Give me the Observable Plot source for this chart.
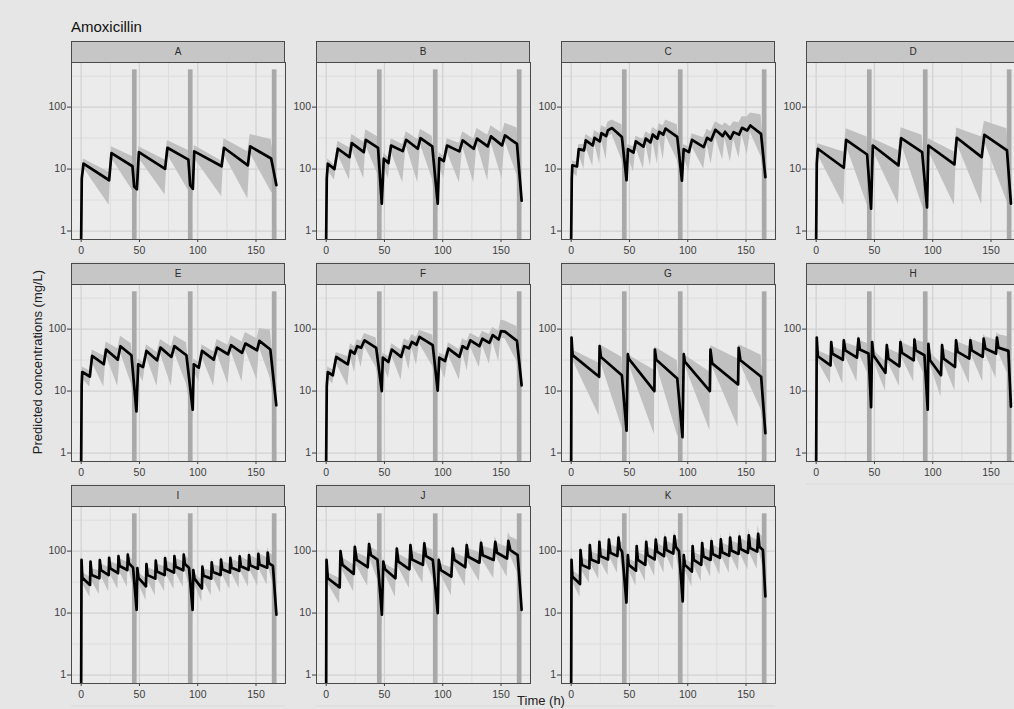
<!DOCTYPE html>
<html><head><meta charset="utf-8">
<script src="https://cdn.jsdelivr.net/npm/d3@7"></script>
<script src="https://cdn.jsdelivr.net/npm/@observablehq/plot@0.6"></script>
<style>
body{margin:0;background:#e6e6e6;overflow:hidden;font-family:"Liberation Sans",Arial,sans-serif;}
#fig{position:relative;width:1014px;height:709px;overflow:hidden;background:#e6e6e6;}
.strip{position:absolute;background:#c6c6c6;border:1px solid #4a4a4a;box-sizing:border-box;font-size:10px;line-height:20px;text-align:center;color:#2a2a2a;}
.ttl{position:absolute;white-space:nowrap;color:#111;}
</style></head><body><div id="fig"></div>
<script>
// ---- data: rows are [time (h), median, lower, upper] (mg/L) ----
const panelNames = ["A","B","C","D","E","F","G","H","I","J","K"];
const panelA = [[0,0.75,0.74,0.76],[0.5,7,4,10],[2,12.2,10.5,14.5],[24,6.6,2.6,8.9],[26,18.1,15,23],[44,11.1,4.5,16],[45.5,5.2,3.5,8],[47.8,4.7,3.3,7],[49.5,18.8,15,23],[72,10.1,3.8,14],[74,22.1,17,29],[92,14.2,4.5,20],[93.5,5.5,3.5,8],[95.8,4.8,3.3,7],[97,19.3,15,24],[120.5,11.1,3.6,13.5],[122.5,22.1,17,31],[143,11.5,3.3,19],[145,23.2,18,36],[163,14.8,4.3,30],[167.5,5.5,3.5,8]];
const panelB = [[0,0.75,0.74,0.76],[0.5,7,5,9],[1.4,12.2,9.5,14.5],[7.1,10,6.6,11.5],[10,21.3,17,28],[20,15.6,6.6,22],[22,26.3,21,36],[32.3,18.8,7,27],[34,29.7,24,43],[44.5,22,8,33],[47.7,2.76,1.8,4],[49.4,14.7,11,18],[53.4,12.5,7,15.5],[55.7,24,19,31],[65.7,19.5,6,25],[68.6,29.7,24,40],[78.6,21.3,6,30],[80.9,31.6,25,44],[91,23.2,7,34],[95.7,2.76,1.8,4],[97,15,11,18.5],[100.9,13.5,7,16],[103.7,24,19,31],[114.3,19.3,6,26],[117.1,29,23,40],[126.6,21.3,6,31],[129.4,31,25,45],[138.6,23.2,6.5,35],[141.4,33.7,27,50],[150.9,24.1,7,38],[153.4,34.9,28,55],[163.7,25.6,8,46],[167.7,3.1,2,4.5]];
const panelC = [[0,0.75,0.74,0.76],[0.5,7,5,9],[1,11.5,9,13.5],[5,11,7.5,13],[6.5,21,17,25],[11,20,10,25],[12.5,29,23,36],[18.5,24,11,31],[20,32,26,42],[24.5,28,12,37],[26,38,30,50],[30,34,14,46],[31.5,42,33,57],[35,46,36,62],[43.5,33,14,52],[47.5,6.6,4.5,9],[48.7,21,16,25],[53.5,18.5,9,23],[55.5,28,22,34],[62,23,10,30],[64,31,25,40],[68,27,11,36],[70,36,28,47],[74,31,12,42],[75.5,40,31,54],[79,36,14,50],[81,45,35,62],[91,33,14,52],[95,6.5,4.5,9],[96.5,21,16,25],[101,18.8,9,23],[103.7,29.7,23,37],[113.7,22.6,10,32],[116.6,32,25,44],[120,29,12,40],[123.7,43,33,58],[130,34,14,50],[132,40,31,56],[136.6,31,13,48],[139.4,39.5,30,58],[144,36,15,56],[146.6,46.4,36,70],[151,42,17,70],[153.7,50.6,39,80],[162.9,37,16,75],[166.6,7.4,5,10]];
const panelD = [[0,0.75,0.74,0.76],[0.5,12,8,15],[1.4,21.3,17,25.6],[23.7,10.5,2.6,18.8],[25.7,29.7,24,44.6],[43.7,17.2,2.7,32.8],[47.1,2.3,1.6,3.5],[48.6,24,20,31],[70.6,11.5,2.7,20],[72.9,31.6,26,46.4],[90.9,18.8,2.6,35],[95.1,2.4,1.7,3.5],[96.3,24,20,31],[118.6,11.9,2.6,18.8],[120.6,32,26,46],[142,15.6,2.7,33],[144.3,35.7,28,59],[163.7,20,3,44.6],[167.1,2.76,1.9,4]];
const panelE = [[0,0.75,0.74,0.76],[0.4,12,8,15],[0.9,20.3,16,24.5],[7.4,17.2,11.6,21],[9.4,37,29,46],[19.4,27.1,11.6,37],[21.4,46.8,37,62],[31.4,32.2,12,48],[33.7,53,42,77],[43.1,37.9,13,58],[47.4,4.7,3.2,7],[48.9,27.1,21,33],[53.1,24.5,14,29],[56,44.5,35,56],[65.1,31.4,12,42],[68,50.3,40,68],[77.4,35.6,12,52],[80,53,42,78],[90.3,37.9,13,60],[95.7,5,3.4,7.5],[96.6,27.1,21,33],[100.9,23.9,14,29],[103.7,44.5,35,56],[113.7,32.2,12,43],[116.6,50.3,40,68],[126,39.3,13,55],[128.6,55,44,78],[138,41.4,14,62],[140.9,58.5,46,88],[150.9,45.6,15,70],[152.9,64.6,50,102],[162.3,46.8,16,96],[167.4,5.9,4,9]];
const panelF = [[0,0.75,0.74,0.76],[0.5,12,8,15],[1.4,20.3,16,24.5],[5.7,18,13,22],[8.6,35.5,28,42],[18.6,27,12,36],[20.9,45,35,58],[24.3,40,20,52],[26.6,53,42,68],[30,50,24,64],[32.9,66,52,85],[42.9,50,24,72],[47.7,10,7,14],[48.6,34.6,27,41],[53.4,29.5,16,36],[56.3,46.8,37,58],[64.3,35.6,15,46],[67,53,42,70],[71,49,22,64],[73.5,62,49,82],[77.5,56,26,74],[80,75,58,96],[91.4,55,25,80],[95.7,10.2,7,14],[97,34.6,27,41],[102,30.6,16,37],[104.9,48.5,38,60],[114.3,35.6,15,47],[117,53,42,70],[121,48,21,64],[123.7,66,52,86],[131.4,53,24,72],[134,70,55,92],[140,60,27,82],[142.9,80,63,106],[148,68,30,92],[150,93,72,140],[153.4,91,70,135],[163.7,64.7,30,110],[167.7,12.3,8,17]];
const panelG = [[0,0.75,0.74,0.76],[0.3,73,38,78],[1.2,38,32,46],[24,17,4,28],[24.4,53,28,58],[25.5,35.5,29,55],[43.5,18,2.6,35],[47.5,2.3,1.5,3.5],[48.6,39.4,30,45],[49.5,33,27,38],[71.4,10,2,21.6],[71.8,46.8,25,52],[73,32,27,50],[91,16,2,31],[95.5,1.8,1.3,3],[96.6,39.4,30,45],[97.5,30,26,38],[119,10,2.3,20.3],[119.5,46.8,25,53],[121,28,25,53],[143.2,12.8,2.6,33],[143.7,50,28,55],[145.2,31.4,27,55],[163,17,5,38],[166.6,2.1,1.5,3.5]];
const panelH = [[0,0.75,0.74,0.76],[0.5,73,45,80],[1.4,36.5,30,45],[12.3,26,13,36],[12.9,62,38,70],[14,40,32,52],[22.9,32,13,45],[23.7,66,42,75],[25,45.5,36,60],[35,34.6,14,52],[36.3,70,45,80],[37.5,46.8,38,65],[44.9,40.3,18,58],[47.1,5.5,3.5,8],[48,62,40,70],[49.1,37.9,31,46],[59.4,19.7,10,30],[60.6,55,33,62],[62,33.5,28,48],[71.4,25.1,12,40],[72.3,62,40,72],[73.7,41.4,34,60],[83.7,31.4,14,50],[84.3,68,44,78],[85.5,45.5,37,66],[92.9,37.9,18,60],[95.7,5,3.3,7.5],[96.3,58,38,66],[97.7,31.4,27,42],[107.1,18,8,28],[108,55,33,62],[109.4,33.5,28,48],[119.1,24.5,10,40],[120,66,42,75],[121.4,43,35,62],[131.4,33.5,13,52],[132.3,66,44,78],[133.5,45.5,37,68],[142.9,35.6,14,58],[143.7,70,46,82],[145.1,48.5,40,75],[154.3,40.3,16,66],[155.1,73,48,88],[156.3,50.3,42,82],[164.9,44.5,18,75],[167.1,5.6,3.5,8]];
const panelI = [[0,0.75,0.74,0.76],[0.3,72,45,80],[1,37,30,45],[7.6,28.5,18,38],[8,67.6,45,76],[9,41,33,52],[15.6,36.5,20,48],[16,71.8,48,82],[17,49.5,40,62],[23.6,41,22,55],[24,78,52,88],[25,52.7,42,68],[31.6,44,24,60],[32,83,56,95],[33,57.5,46,75],[39.6,49.5,26,66],[40,88,58,100],[41,63.5,50,82],[44.5,54,28,72],[47.6,11.3,7,15],[48.2,53,40,62],[49.2,37,30,45],[55.6,27,16,36],[56,62,42,70],[57,41,34,54],[63.6,36,19,48],[64,70,46,80],[65,47,38,62],[71.6,41,22,56],[72,77,52,88],[73,52,42,70],[79.6,45,24,62],[80,83,56,95],[81,56,45,76],[87.6,49,26,68],[88,88,58,102],[89,62,50,84],[92.5,54,28,74],[95.6,11.3,7,15],[96.2,49.5,38,60],[97.2,36,29,44],[103.6,25,15,34],[104,56,40,66],[105,40,33,52],[111.6,36,19,48],[112,66,44,76],[113,46,38,60],[119.6,41,21,56],[120,73,50,84],[121,51,42,68],[127.6,45,24,62],[128,78,53,90],[129,54,44,74],[135.6,48,25,66],[136,82,56,96],[137,57,46,80],[143.6,50,26,70],[144,86,58,102],[145,59,48,84],[151.6,52,27,74],[152,90,60,110],[153,61,50,90],[159.6,54,28,78],[160,95,62,118],[161,64,52,95],[164.5,58,30,85],[167.5,9.4,6,13]];
const panelJ = [[0,0.75,0.74,0.76],[0.3,72,45,85],[1.4,36.5,30,45],[11.6,26,14,36],[12.3,100,60,115],[14,60,48,78],[23.6,43,22,60],[24.6,117,70,135],[26.2,72,58,95],[35.6,55,27,78],[36.8,130,80,150],[38.4,86,68,115],[44,73,35,100],[47.8,9.4,6,13],[49,67.6,50,80],[50.5,50.8,42,62],[59.4,36.5,18,50],[60.6,110,66,128],[62,67.6,55,90],[71.4,50.8,25,72],[72.3,125,75,145],[73.7,73.4,60,100],[83,60,30,86],[84.2,133,82,155],[85.7,83,66,115],[91.5,72,36,104],[95.7,10,6.5,14],[96.6,72,52,85],[98.4,49.5,41,62],[107.4,38.8,19,54],[108.6,110,66,128],[110,72,58,95],[119.3,55,27,78],[120.6,125,76,148],[122,81,65,110],[131.5,65,32,94],[132.9,136,84,162],[134.3,86,70,120],[143.7,72,36,106],[145.1,141,88,172],[146.6,94,76,135],[155.2,76,38,115],[156.3,146,92,200],[158,104,84,170],[164.3,86,44,150],[167.7,11.3,7,16]];
const panelK = [[0,0.75,0.74,0.76],[0.3,72,45,85],[1,38.8,32,48],[7.6,29.5,18,40],[8,104,62,120],[9.2,60,48,78],[15.6,52.7,30,70],[16,125,75,145],[17.1,73.4,60,98],[23.6,65,35,88],[24.2,141,86,165],[25.2,83,68,112],[31.6,73.4,40,100],[32.4,153,94,180],[33.7,94,76,128],[39.6,83,44,114],[40.6,165,100,195],[41.7,110,88,148],[43.7,98,50,135],[47.4,14.8,9,20],[48.6,86,62,102],[49.4,60,50,74],[55.6,48.5,27,66],[56.2,120,72,140],[57.2,72,58,96],[63.6,60,32,84],[64.4,141,86,165],[65.5,86,70,118],[71.6,73.4,39,102],[72.6,153,94,182],[73.8,98,79,135],[79.6,83,44,116],[80.6,165,100,198],[81.8,104,84,145],[87.6,91,48,128],[88.6,175,106,212],[89.8,117,94,165],[92.5,100,52,145],[95.7,15.4,9.5,21],[96.6,86,62,102],[97.6,60,50,74],[103.6,46.8,26,64],[104.2,120,72,140],[105.2,72,58,96],[111.6,60,32,84],[112.4,135,82,160],[113.5,82,67,114],[119.6,72,38,100],[120.4,145,88,174],[121.5,90,73,126],[127.6,78,41,110],[128.4,155,95,190],[129.5,96,78,136],[135.6,84,44,120],[136.4,165,100,205],[137.5,102,82,148],[143.6,90,47,130],[144.4,172,104,220],[145.5,108,87,160],[151.6,94,49,140],[152.4,180,108,235],[153.5,112,90,172],[159.6,98,51,150],[160.4,190,114,260],[161.5,118,95,190],[164.5,104,54,170],[166.6,18.5,11,25]];
const panelRows = [panelA,panelB,panelC,panelD,panelE,panelF,panelG,panelH,panelI,panelJ,panelK];

// sampling windows (grey bars)
const barStart = [44, 92, 164];
const barEnd = [48, 96, 168];
const barTop = 400;

// axes
const xTicks = [0, 50, 100, 150];
const xMinor = [25, 75, 125, 175];
const yTicks = [1, 10, 100];
const yMinor = [0.316, 3.16, 31.6, 316];
const xDomain = [-8.3, 175.3];
const yDomain = [0.73, 525];

// ---- layout ----
const colLeft = [71, 316, 561, 806];
const stripTop = [41, 263, 485];
const boxW = 214, boxH = 177, stripH = 21, mL = 40, mB = 24;

const fig = document.getElementById("fig");
function addDiv(cls, text, css) {
  const d = document.createElement("div");
  d.className = cls; d.textContent = text;
  Object.assign(d.style, css); fig.appendChild(d); return d;
}

addDiv("ttl", "Amoxicillin", {left: "71px", top: "19px", fontSize: "15px", lineHeight: "15px"});

const bars = barStart.map((s, i) => ({x1: s, x2: barEnd[i], y1: yDomain[0], y2: barTop}));

panelNames.forEach((name, i) => {
  const col = i % 4, row = Math.floor(i / 4);
  const data = panelRows[i].map(([t, med, lo, hi]) => ({t, med, lo, hi}));
  const svg = Plot.plot({
    width: mL + boxW, height: boxH + mB,
    marginLeft: mL, marginRight: 0, marginTop: 0, marginBottom: mB,
    style: {background: "transparent", color: "#3d3d3d", fontFamily: "Liberation Sans, Arial, sans-serif", fontSize: "10.5px", overflow: "visible"},
    x: {domain: xDomain, ticks: xTicks, tickSize: 3, tickPadding: 4, tickFormat: d => String(d), label: null},
    y: {type: "log", domain: yDomain, ticks: yTicks, tickSize: 4, tickPadding: 1.5, tickFormat: d => String(d), label: null},
    marks: [
      Plot.frame({fill: "#ebebeb"}),
      Plot.ruleX(xMinor, {stroke: "#d9d9d9", strokeWidth: 0.8}),
      Plot.ruleY(yMinor, {stroke: "#d9d9d9", strokeWidth: 0.8}),
      Plot.ruleX(xTicks, {stroke: "#d2d2d2", strokeWidth: 1.3}),
      Plot.ruleY(yTicks, {stroke: "#d2d2d2", strokeWidth: 1.3}),
      Plot.areaY(data, {x: "t", y1: "lo", y2: "hi", fill: "#c0c0c0"}),
      Plot.rect(bars, {x1: "x1", x2: "x2", y1: "y1", y2: "y2", fill: "#a9a9a9"}),
      Plot.line(data, {x: "t", y: "med", stroke: "#000", strokeWidth: 2.7, strokeLinejoin: "round"}),
      Plot.frame({stroke: "#4a4a4a", strokeWidth: 1})
    ]
  });
  svg.style.position = "absolute";
  svg.style.left = (colLeft[col] - mL) + "px";
  svg.style.top = (stripTop[row] + stripH) + "px";
  svg.style.maxWidth = "none";
  fig.appendChild(svg);
  addDiv("strip", name, {left: colLeft[col] + "px", top: stripTop[row] + "px", width: boxW + "px", height: (stripH + 1) + "px"});
});

addDiv("ttl", "Predicted concentrations (mg/L)", {left: "37px", top: "362px", fontSize: "13px", color: "#222", transform: "translate(-50%,-50%) rotate(-90deg)"});
addDiv("ttl", "Time (h)", {left: "541px", top: "694px", fontSize: "13px", lineHeight: "14px", color: "#222", transform: "translateX(-50%)"});
</script></body></html>
